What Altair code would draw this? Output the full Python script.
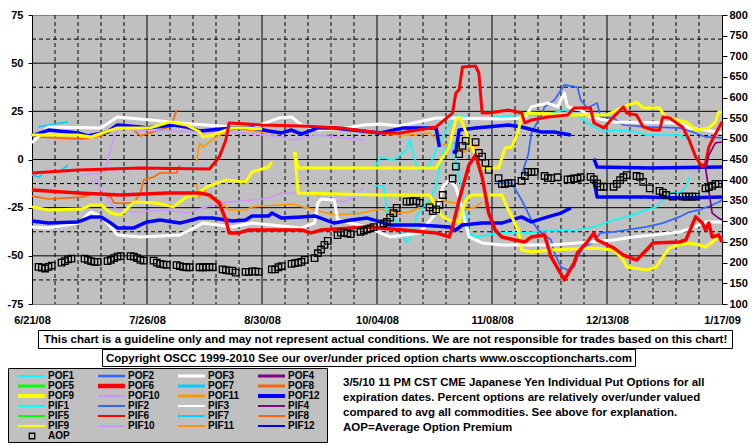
import altair as alt
import pandas as pd

FONT = "Liberation Sans, Arial, sans-serif"
FS = 11.5      # box / note text
FS_AX = 11     # axis labels
FS_LEG = 10    # legend labels

# ---------------- axis data ----------------
# x values are days after 6/21/08
tick_days = [0, 35, 70, 105, 140, 175, 210]
tick_labels = ["6/21/08", "7/26/08", "8/30/08", "10/04/08", "11/08/08", "12/13/08", "1/17/09"]
left_ticks = [-75, -50, -25, 0, 25, 50, 75]
right_ticks = [100, 150, 200, 250, 300, 350, 400, 450, 500, 550, 600, 650, 700, 750, 800]

# ---------------- series ----------------
series_names = ["POF1", "POF2", "POF3", "POF4", "POF5", "POF6", "POF7", "POF8",
                "POF9", "POF10", "POF11", "POF12",
                "PIF1", "PIF2", "PIF3", "PIF4", "PIF5", "PIF6", "PIF7", "PIF8",
                "PIF9", "PIF10", "PIF11", "PIF12"]
base_colors = ["#00FFFF", "#3366FF", "#FFFFFF", "#800080", "#00FF00", "#FF0000",
               "#00CCFF", "#FF6600", "#FFFF00", "#CC99FF", "#FF9900", "#0000FF"]
series_colors = base_colors + base_colors
legend_widths = [2, 2.5, 3, 3, 3, 4.5, 3, 3, 4, 2.5, 3, 4] + [2] * 12
thick = {"POF3": 3, "PIF3": 3, "POF6": 3.5, "PIF6": 3, "POF9": 3, "PIF9": 3,
         "POF12": 3.5, "PIF12": 3.5}

pof3_days = [0, 5, 21, 26, 36, 45, 53, 61, 67, 75, 79, 82, 87, 94, 101, 106, 112, 123, 128, 142,
             150, 152, 157, 160, 162, 163, 167, 170, 177, 197, 200, 205, 210]
pof3_vals = [8.6, 16.9, 16.4, 22.1, 20.5, 19.0, 17.9, 16.9, 16.4, 21.5, 22.1, 17.9, 15.3, 15.8, 17.9,
             18.4, 17.4, 21.5, 21.5, 21.0, 21.5, 27.3, 29.3, 27.3, 34.5, 27.3, 25.7, 22.1, 19.5, 19.0,
             16.4, 15.3, 13.8]

pif3_days = [0, 5, 14, 18, 21, 24, 26, 33, 45, 50, 52, 61, 67, 82, 86, 87, 88, 92, 93, 102,
             106, 109, 118, 123, 125, 127, 129, 131, 133, 137, 143, 158, 166, 177, 183, 189, 197,
             201, 205, 210]
pif3_vals = [-35.0, -35.5, -33.0, -27.2, -29.8, -35.0, -39.2, -40.2, -39.2, -35.0, -33.0, -35.0,
             -33.0, -35.5, -33.0, -22.6, -20.5, -21.0, -31.4, -35.0, -38.1, -40.2, -38.1, -27.8,
             -14.3, -10.6, -14.3, -26.2, -40.2, -43.3, -44.4, -44.4, -43.3, -41.8, -40.2, -39.2,
             -37.6, -35.5, -32.4, -32.4]

pof12a_days = [0, 5, 14, 17, 23, 26, 33, 35, 43, 47, 51, 61, 67, 72, 76, 79, 82, 87, 92, 106,
               113, 123, 124]
pof12a_vals = [12.2, 15.3, 13.8, 12.2, 14.3, 17.9, 16.9, 16.4, 17.9, 16.9, 14.8, 16.4, 16.4, 14.8,
               13.8, 15.3, 13.2, 16.4, 16.4, 13.8, 16.4, 16.4, 6.5]
pof12b_days = [128, 129, 130, 135, 145, 149, 155, 159, 164]
pof12b_vals = [3.9, 3.9, 15.3, 16.4, 17.9, 16.9, 14.3, 14.3, 12.7]
pof12c_days = [171, 172, 188, 210]
pof12c_vals = [0.5, -3.9, -4.4, -3.9]

pif12a_days = [0, 5, 14, 18, 21, 24, 26, 31, 35, 39, 45, 51, 55, 61, 65, 67, 72, 73, 76, 82,
               86, 92, 97, 102, 106, 109, 118, 127, 129, 131, 137, 143, 149, 152, 157, 161, 164]
pif12a_vals = [-31.9, -33.0, -32.4, -29.8, -29.8, -33.0, -35.5, -35.5, -32.4, -31.4, -33.0, -30.4,
               -30.4, -31.9, -31.4, -29.3, -29.3, -27.8, -30.4, -29.8, -29.3, -33.0, -31.4, -30.4,
               -32.4, -34.0, -34.0, -35.0, -36.6, -34.0, -33.0, -33.0, -29.8, -32.4, -29.8, -27.8,
               -25.2]
pif12b_days = [171, 172, 187, 197, 210]
pif12b_vals = [-10.6, -19.5, -19.5, -20.0, -19.5]

pof6_days = [0, 14, 27, 41, 51, 54, 57, 59, 60, 63, 66, 82, 85, 88, 102, 113, 123, 127, 128, 130,
             133, 135, 137, 139, 141, 143, 147, 150, 152, 156, 158, 162, 165, 166, 169, 171, 172,
             177, 180, 184, 187, 189, 197, 199, 202, 204, 205, 206, 207, 209, 210]
pof6_vals = [-15.8, -17.4, -18.4, -17.4, -17.4, -18.4, -22.6, -31.4, -38.1, -38.1, -36.6, -36.6,
             -38.1, -36.6, -35.0, -36.6, -38.1, -40.2, -35.0, -21.0, -2.9, 2.3, -9.1, -27.8, -36.6,
             -40.2, -41.8, -42.8, -40.2, -39.2, -50.6, -62.5, -53.7, -48.5, -42.8, -38.1, -41.8,
             -45.9, -49.6, -52.2, -47.0, -43.3, -42.8, -41.8, -29.8, -33.0, -36.6, -33.0, -40.2,
             -39.2, -42.8]

pif6_days = [0, 14, 33, 54, 57, 59, 60, 70, 82, 94, 106, 112, 123, 128, 129, 130, 131, 135, 136,
             137, 139, 145, 149, 150, 152, 157, 163, 165, 170, 171, 174, 177, 180, 181, 184, 186,
             189, 191, 192, 194, 198, 200, 202, 204, 205, 206, 207, 210]
pif6_vals = [-7.0, -5.4, -4.4, -4.9, 1.3, 10.1, 19.0, 17.9, 17.4, 16.4, 13.8, 13.8, 16.9, 24.1,
             34.5, 36.1, 48.0, 48.5, 44.9, 24.1, 24.1, 25.7, 24.1, 19.0, 20.5, 22.1, 23.1, 26.7,
             26.7, 19.0, 16.4, 22.1, 27.3, 24.1, 23.1, 16.9, 15.3, 15.3, 22.1, 21.5, 16.9, 10.1,
             1.3, -3.9, -1.8, 6.5, 10.1, 19.5]

pof9a_days = [0, 14, 18, 26, 36, 42, 47, 51, 52, 55, 61, 65, 70]
pof9a_vals = [12.7, 12.7, 11.7, 16.4, 16.4, 19.5, 17.9, 14.3, 11.7, 12.7, 16.4, 16.4, 15.8]
pof9b_days = [80, 81, 106, 123, 125, 127, 129, 130, 131, 133, 135, 136, 138, 142, 144, 146, 148,
              149, 151, 165, 175, 180, 184, 186, 191, 193, 199, 202, 206, 208, 209, 210]
pof9b_vals = [3.9, -4.4, -4.4, -4.4, 1.3, 6.5, 20.5, 22.1, 19.0, 10.1, 2.3, -3.9, -4.4, -4.4, 6.0,
              6.5, 14.3, 23.1, 24.1, 23.1, 23.1, 27.3, 29.8, 26.7, 26.7, 21.5, 19.5, 15.3, 16.4,
              19.5, 24.6, 24.6]

pif9a_days = [0, 5, 15, 18, 21, 24, 27, 31, 38, 43, 47, 50, 53, 59, 65, 67, 72, 73]
pif9a_vals = [-24.6, -26.2, -25.7, -23.6, -23.6, -27.8, -28.8, -22.1, -22.6, -24.6, -19.5, -18.4,
              -14.3, -10.6, -11.7, -6.5, -3.9, -1.3]
pif9b_days = [80, 81, 106, 121, 123, 125, 127, 130, 132, 134, 143, 145, 148, 149, 152, 158, 171,
              177, 180, 181, 187, 190, 192, 194, 197, 200, 203, 205, 207, 209, 210]
pif9b_vals = [3.9, -17.4, -18.4, -18.4, -24.6, -29.8, -31.4, -32.4, -21.0, -18.4, -18.4, -26.2,
              -36.6, -47.0, -48.0, -47.0, -45.9, -47.0, -52.2, -55.8, -57.4, -55.8, -50.6, -45.9,
              -44.4, -43.3, -44.4, -45.4, -42.8, -40.2, -41.8]

pof10_days = [15, 22, 25, 26, 31, 51, 61, 76, 79, 87, 92, 101]
pof10_vals = [-8.0, -7.0, 11.7, 16.9, 15.3, 14.3, 14.3, 11.7, 10.1, 12.7, 11.7, 10.1]
pif10_days = [18, 20, 21, 25, 26, 31, 41, 47, 53, 59, 67, 72, 76, 86, 88, 95, 98, 101]
pif10_vals = [-11.7, -10.6, -15.8, -24.6, -26.2, -27.3, -26.2, -27.8, -24.6, -22.1, -21.0, -20.0,
              -17.4, -17.4, -20.0, -22.1, -19.5, -14.3]

pof8_days = [0, 5, 15, 20, 24, 25, 31, 33, 34, 37, 39, 44, 45]
pof8_vals = [-19.0, -20.5, -19.5, -17.4, -19.5, -22.6, -22.6, -17.4, -10.6, -9.1, -7.0, -7.0, -2.9]
pif8_days = [1, 15, 21, 26, 31, 33, 36, 41, 43, 44]
pif8_vals = [11.7, 10.6, 12.2, 17.4, 15.3, 12.2, 13.8, 16.4, 20.5, 25.7]

pof11_days = [50, 51, 52, 54, 57, 60, 65, 67, 79, 84, 92, 100, 106, 110, 115, 123, 129, 131, 135, 137]
pof11_vals = [-12.6, -20.0, -14.8, -20.0, -21.0, -26.2, -26.2, -24.6, -23.1, -25.2, -28.8, -27.8,
              -25.7, -27.8, -27.3, -21.0, -22.6, -26.2, -24.6, -22.1]
pif11_days = [50, 51, 52, 54, 57, 62, 69, 82, 94, 106, 112, 121, 125, 129, 131, 135, 136]
pif11_vals = [-1.3, 8.6, 6.5, 9.1, 12.7, 16.4, 14.3, 14.3, 15.3, 13.8, 12.2, 13.8, 7.5, 8.6, 3.4,
              7.5, 6.5]

pof1_days = [104, 107, 108, 110, 113, 114, 116, 117, 119, 121, 123, 124, 125, 127, 128, 130, 131,
             132, 133, 135, 143, 150, 156, 166, 171, 177, 181, 187, 190, 192, 194, 197, 199, 200]
pof1_vals = [-13.7, -13.7, -27.8, -29.8, -38.1, -43.3, -38.1, -29.8, -24.6, -21.0, -14.3, -3.9,
             3.4, 8.6, 8.6, -9.1, -15.8, -27.8, -38.1, -40.2, -38.1, -38.1, -37.1, -36.6, -35.0,
             -31.4, -29.8, -26.2, -24.6, -21.0, -17.4, -17.4, -14.3, -9.1]
pif1_days = [104, 106, 110, 114, 115, 117, 118, 121, 123, 126, 129, 133, 139, 149, 156, 162, 166,
             169, 174, 177, 184, 187, 197, 200]
pif1_vals = [-5.4, 1.3, -0.3, 4.9, 10.1, -2.9, -5.4, -2.9, 4.9, 15.3, 23.1, 21.5, 21.5, 23.1, 23.1,
             25.7, 23.1, 19.0, 14.3, 15.3, 14.3, 12.7, 12.7, 10.1]

pof7a_days = [2, 5, 11]
pof7a_vals = [16.9, 17.9, 19.5]
pof7b_days = [0, 2, 3]
pof7b_vals = [-8.0, -9.1, -8.0]
pof7c_days = [9, 11]
pof7c_vals = [-5.4, -2.9]

pof2_days = [142, 146, 149, 152, 154, 158, 159, 161, 163, 165, 166, 168, 171, 173, 177, 181, 187,
             192, 197, 200, 203, 207, 209, 210]
pof2_vals = [-12.2, -12.2, -21.0, -31.4, -36.6, -41.8, -48.5, -55.8, -57.4, -55.8, -50.6, -45.4,
             -42.8, -38.1, -37.6, -36.6, -35.0, -33.0, -29.8, -27.3, -26.2, -23.6, -22.1, -21.0]
pif2_days = [149, 151, 152, 155, 156, 159, 162, 166, 167, 169, 172, 173, 177, 180, 187, 197, 201,
             205, 210]
pif2_vals = [-8.0, 2.3, 13.8, 23.1, 27.3, 30.9, 38.7, 37.6, 30.9, 26.7, 29.3, 22.1, 21.5, 17.9,
             16.9, 16.4, 14.3, 11.7, 11.2]

pof4_days = [205, 206, 207, 209, 210]
pof4_vals = [-4.4, -16.0, -27.8, -30.4, -31.4]
pif4_days = [205, 206, 208, 210]
pif4_vals = [-5.4, 2.3, 8.6, 9.1]

traces = [
    ("POF8", pof8_days, pof8_vals), ("PIF8", pif8_days, pif8_vals),
    ("POF11", pof11_days, pof11_vals), ("PIF11", pif11_days, pif11_vals),
    ("POF10", pof10_days, pof10_vals), ("PIF10", pif10_days, pif10_vals),
    ("POF7", pof7a_days, pof7a_vals), ("POF7", pof7b_days, pof7b_vals),
    ("POF7", pof7c_days, pof7c_vals),
    ("PIF1", pif1_days, pif1_vals), ("POF1", pof1_days, pof1_vals),
    ("PIF2", pif2_days, pif2_vals), ("POF2", pof2_days, pof2_vals),
    ("PIF3", pif3_days, pif3_vals), ("POF3", pof3_days, pof3_vals),
    ("PIF12", pif12a_days, pif12a_vals), ("PIF12", pif12b_days, pif12b_vals),
    ("POF12", pof12a_days, pof12a_vals), ("POF12", pof12b_days, pof12b_vals),
    ("POF12", pof12c_days, pof12c_vals),
    ("PIF9", pif9a_days, pif9a_vals), ("PIF9", pif9b_days, pif9b_vals),
    ("POF9", pof9a_days, pof9a_vals), ("POF9", pof9b_days, pof9b_vals),
    ("PIF6", pif6_days, pif6_vals), ("POF6", pof6_days, pof6_vals),
    ("POF4", pof4_days, pof4_vals), ("PIF4", pif4_days, pif4_vals),
]

# Average Option Premium (right axis), one row per week Mon..Fri (None = market closed)
aop_first_monday = 2
aop_weeks = [
    [190, 188, 186, 190, 193], [200, 204, 208, 210, None], [210, 207, 204, 202, 202],
    [204, 207, 211, 215, 216], [216, 215, 211, 207, 205], [205, 200, 197, 196, 195],
    [194, 192, 190, 189, 189], [189, 189, 189, 190, 189], [184, 182, 181, 181, 176],
    [178, 178, 179, 179, 178], [None, 184, 184, 189, 192], [197, 199, 200, 202, 207],
    [211, 223, 232, 243, 253], [267, 273, 273, 271, 269], [275, 278, 281, 283, 286],
    [295, 299, 309, 320, 333], [348, 348, 349, 349, 345], [334, 325, 329, 340, 364],
    [404, 433, 463, 483, 495], [492, 466, 457, 442, 425], [405, 391, 391, 393, 393],
    [398, 410, 420, 420, 420], [410, 405, 405, None, 407], [402, 402, 404, 404, 407],
    [408, 402, 392, 384, 384], [384, 391, 400, 407, 412], [410, 408, 396, None, 380],
    [374, 370, 364, None, 360], [360, 360, 360, 360, 360], [380, 383, 386, 391, 391],
]

disclaimer = ("This chart is a guideline only and may not represent actual conditions. "
              "We are not responsible for trades based on this chart!")
copyright_text = ("Copyright OSCC 1999-2010 See our over/under priced option charts "
                  "www.osccoptioncharts.com")
note_lines = [
    "3/5/10 11 PM CST CME Japanese Yen Individual Put Options for all",
    "expiration dates. Percent options are relatively over/under valued",
    "compared to avg all commodities. See above for explanation.",
    "AOP=Average Option Premium",
]

# ---------------- tables ----------------
color_of = dict(zip(series_names, series_colors))
rows = []
for tid, (name, days, vals) in enumerate(traces):
    for k, (d, v) in enumerate(zip(days, vals)):
        rows.append({"trace": tid, "name": name, "day": d, "val": v, "seq": k,
                     "color": color_of[name], "width": thick.get(name, 1.7)})
lines_df = pd.DataFrame(rows)

aop_rows = []
for w, week in enumerate(aop_weeks):
    for i, v in enumerate(week):
        if v is not None:
            aop_rows.append({"day": aop_first_monday + 7 * w + i, "aop": v})
aop_df = pd.DataFrame(aop_rows)

vgrid = pd.DataFrame({"day": list(range(7, 210, 7))})
vgrid["major"] = vgrid["day"] % 35 == 0
hgrid = pd.DataFrame({"v": [-62.5 + 12.5 * i for i in range(11)]})
hgrid["major"] = hgrid["v"] % 25 == 0

W, H = 690, 289
x_scale = alt.Scale(domain=[0, 210], nice=False, zero=False)
y_scale = alt.Scale(domain=[-75, 75], nice=False, zero=False)
r_scale = alt.Scale(domain=[100, 800], nice=False, zero=False)

label_js = "[" + ",".join("'%s'" % t for t in tick_labels) + "]"
x_axis = alt.Axis(values=tick_days, labelExpr=f"{label_js}[indexof({tick_days}, datum.value)]",
                  grid=False, ticks=False, domain=False, labelPadding=10, labelFlush=False,
                  labelOverlap=False, labelFont=FONT, labelFontSize=FS_AX, labelFontWeight="bold",
                  labelColor="black", title=None)
y_axis = alt.Axis(values=left_ticks, labelExpr="'' + datum.value", grid=False, tickSize=4,
                  tickColor="black", domainColor="black", labelPadding=5, labelFont=FONT,
                  labelFontSize=FS_AX, labelFontWeight="bold", labelColor="black", title=None,
                  labelFlush=False)
r_axis = alt.Axis(values=right_ticks, orient="right", grid=False, tickSize=5, tickColor="black",
                  domainColor="black", labelPadding=2, labelFont=FONT, labelFontSize=FS_AX,
                  labelFontWeight="bold", labelColor="black", title=None, labelFlush=False)

X = alt.X("day:Q", scale=x_scale, axis=x_axis)

vminor = alt.Chart(vgrid[~vgrid.major]).mark_rule(color="black", strokeWidth=1, strokeDash=[4, 3]).encode(x=X)
vmajor = alt.Chart(vgrid[vgrid.major]).mark_rule(color="black", strokeWidth=1).encode(x=X)
hminor = alt.Chart(hgrid[~hgrid.major]).mark_rule(color="black", strokeWidth=1, strokeDash=[4, 3]).encode(
    y=alt.Y("v:Q", scale=y_scale, axis=y_axis))
hmajor = alt.Chart(hgrid[hgrid.major]).mark_rule(color="black", strokeWidth=1).encode(
    y=alt.Y("v:Q", scale=y_scale, axis=y_axis))

lines = alt.Chart(lines_df).mark_line(strokeJoin="round", strokeCap="butt").encode(
    x=X,
    y=alt.Y("val:Q", scale=y_scale, axis=y_axis),
    detail="trace:N",
    order="seq:Q",
    color=alt.Color("color:N", scale=None),
    strokeWidth=alt.StrokeWidth("width:Q", scale=None),
)

inner = alt.layer(vminor, vmajor, hminor, hmajor, lines)

aop = alt.Chart(aop_df).mark_point(shape="square", filled=False, color="black", size=42,
                                   strokeWidth=1.3, opacity=1).encode(
    x=X,
    y=alt.Y("aop:Q", scale=r_scale, axis=r_axis),
)

one = pd.DataFrame({"k": [0]})


def box(x1, x2, y1, y2, fill):
    return alt.Chart(one).mark_rect(fill=fill, stroke="black", strokeWidth=1).encode(
        x=alt.value(x1), x2=alt.value(x2), y=alt.value(y1), y2=alt.value(y2))


def label(txt, x, y, align="left", size=FS):
    return alt.Chart(one).mark_text(text=txt, font=FONT, fontSize=size, fontWeight="bold",
                                    color="black", align=align, baseline="middle").encode(
        x=alt.value(x), y=alt.value(y))


box1 = box(6.5, 700.5, 315.5, 333.5, "white")
txt1 = label(disclaimer, 353.5, 325, "center")
box2 = box(70.5, 603.5, 334.5, 351.5, "white")
txt2 = label(copyright_text, 337, 343.5, "center")
legbox = box(-23.5, 295.5, 353.5, 427.5, "#C0C0C0")

leg = pd.DataFrame({"name": series_names, "color": series_colors, "lw": legend_widths})
leg["col"] = leg.index % 4
leg["row"] = leg.index // 4
leg["x1"] = -14 + 80 * leg["col"]
leg["x2"] = leg["x1"] + 27
leg["tx"] = leg["x1"] + 30
leg["ty"] = 361 + 10 * leg["row"]

leg_lines = alt.Chart(leg).mark_rule(strokeCap="butt").encode(
    x=alt.X("x1:Q", scale=None, axis=None), x2="x2:Q",
    y=alt.Y("ty:Q", scale=None, axis=None),
    color=alt.Color("color:N", scale=None),
    strokeWidth=alt.StrokeWidth("lw:Q", scale=None))
leg_text = alt.Chart(leg).mark_text(font=FONT, fontSize=FS_LEG, fontWeight="bold", color="black",
                                    align="left", baseline="middle").encode(
    x=alt.X("tx:Q", scale=None, axis=None), y=alt.Y("ty:Q", scale=None, axis=None),
    text="name:N")
leg_aop_sym = alt.Chart(one).mark_point(shape="square", filled=False, color="black", size=30,
                                        strokeWidth=1.3, opacity=1).encode(
    x=alt.value(0), y=alt.value(421))
leg_aop_txt = label("AOP", 16, 421, "left", FS_LEG)

notes = [label(t, 311, 368 + 15 * i) for i, t in enumerate(note_lines)]

chart = alt.layer(
    inner, aop, box1, txt1, box2, txt2, legbox, leg_lines, leg_text, leg_aop_sym, leg_aop_txt,
    *notes
).resolve_scale(y="independent").properties(
    width=W, height=H,
    padding={"left": 32, "top": 15, "right": 33, "bottom": 142},
    autosize=alt.AutoSizeParams(type="none"),
    background="white",
).configure_view(fill="#C0C0C0", stroke="#808080", strokeWidth=1)

chart.save("out.html", embed_options={"renderer": "svg", "actions": False})
